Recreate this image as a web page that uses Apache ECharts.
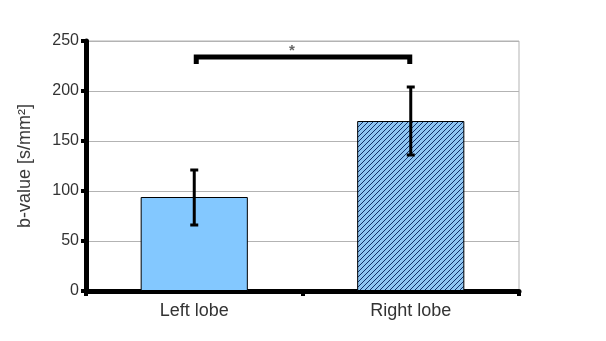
<!DOCTYPE html>
<html>
<head>
<meta charset="utf-8">
<script src="https://cdn.jsdelivr.net/npm/echarts@6/dist/echarts.min.js"></script>
<style>
html,body{margin:0;padding:0;background:#fff;}
#chart{width:606px;height:341px;}
</style>
</head>
<body>
<div id="chart"></div>
<script>
// data
var categories = ['Left lobe', 'Right lobe'];
var means = [94, 170];
var errLow = [66, 136];
var errHigh = [121, 204];
// significance bracket: from category, to category, level, mark
var sigFrom = [0];
var sigTo = [1];
var sigLevel = [234];
var sigMark = ['*'];

// hatch pattern for the right bar
function makeHatch() {
    var n = 5;
    var c = document.createElement('canvas');
    c.width = n; c.height = n;
    var ctx = c.getContext('2d');
    ctx.fillStyle = '#8fc6f2';
    ctx.fillRect(0, 0, n, n);
    ctx.strokeStyle = '#12306a';
    ctx.lineWidth = 1;
    ctx.beginPath();
    ctx.moveTo(-1, n + 1); ctx.lineTo(n + 1, -1);
    ctx.moveTo(-1, 1); ctx.lineTo(1, -1);
    ctx.moveTo(n - 1, n + 1); ctx.lineTo(n + 1, n - 1);
    ctx.stroke();
    return c;
}

var chart = echarts.init(document.getElementById('chart'));

var barData = means.map(function (v, i) {
    var d = { value: v };
    if (i === 1) d.itemStyle = { color: { image: makeHatch(), repeat: 'repeat' } };
    return d;
});

var errData = categories.map(function (c, i) { return [i, errLow[i], errHigh[i]]; });
var sigData = sigFrom.map(function (f, i) { return [f, sigTo[i], sigLevel[i], sigMark[i]]; });

var option = {
    animation: false,
    grid: {
        left: 86, right: 87, top: 41, bottom: 50,
        show: true, borderColor: '#b3b3b3', borderWidth: 1
    },
    xAxis: {
        type: 'category',
        data: categories,
        axisLine: { lineStyle: { color: '#000', width: 5 } },
        axisTick: { show: true, length: 5, lineStyle: { color: '#000', width: 4 } },
        axisLabel: { color: '#333', fontSize: 18, fontFamily: 'Liberation Sans', margin: 11 }
    },
    yAxis: {
        type: 'value',
        min: 0, max: 250, interval: 50,
        name: 'b-value [s/mm²]',
        nameLocation: 'middle',
        nameGap: 52,
        nameTextStyle: { color: '#3a3a3a', fontSize: 18, fontFamily: 'Liberation Sans' },
        axisLine: { show: true, lineStyle: { color: '#000', width: 5 } },
        axisTick: { show: true, length: 5, lineStyle: { color: '#000', width: 4 } },
        axisLabel: { color: '#333', fontSize: 16, fontFamily: 'Liberation Sans', margin: 7 },
        splitLine: { lineStyle: { color: '#b3b3b3', width: 1 } }
    },
    series: [
        {
            type: 'bar',
            data: barData,
            barWidth: '49.5%',
            itemStyle: { color: '#83c8ff', borderColor: '#000', borderWidth: 1 }
        },
        {
            type: 'custom',
            data: errData,
            z: 5,
            renderItem: function (params, api) {
                var x = api.value(0);
                var lo = api.coord([x, api.value(1)]);
                var hi = api.coord([x, api.value(2)]);
                var cw = 4;
                var st = { stroke: '#000', lineWidth: 3 };
                return {
                    type: 'group',
                    children: [
                        { type: 'line', shape: { x1: lo[0], y1: lo[1], x2: hi[0], y2: hi[1] }, style: st },
                        { type: 'line', shape: { x1: lo[0] - cw, y1: lo[1], x2: lo[0] + cw, y2: lo[1] }, style: st },
                        { type: 'line', shape: { x1: hi[0] - cw, y1: hi[1], x2: hi[0] + cw, y2: hi[1] }, style: st }
                    ]
                };
            }
        },
        {
            type: 'custom',
            data: sigData,
            z: 6,
            renderItem: function (params, api) {
                var a = api.coord([api.value(0), api.value(2)]);
                var b = api.coord([api.value(1), api.value(2)]);
                a[0] += 2; b[0] -= 1;
                var drop = 7;
                var st = { stroke: '#000', lineWidth: 5, lineJoin: 'miter', fill: null };
                return {
                    type: 'group',
                    children: [
                        { type: 'polyline', shape: { points: [[a[0], a[1] + drop], [a[0], a[1]], [b[0], b[1]], [b[0], b[1] + drop]] }, style: st },
                        // the star sits a little left of the bracket middle in the original
                        { type: 'text', style: { text: sigData[params.dataIndex][3], x: (a[0] + b[0]) / 2 - 11, y: a[1] + 1, align: 'center', verticalAlign: 'bottom', fill: '#666', font: 'bold 15px Liberation Sans' } }
                    ]
                };
            }
        }
    ]
};
chart.setOption(option);
window.onresize = chart.resize;
</script>
</body>
</html>
